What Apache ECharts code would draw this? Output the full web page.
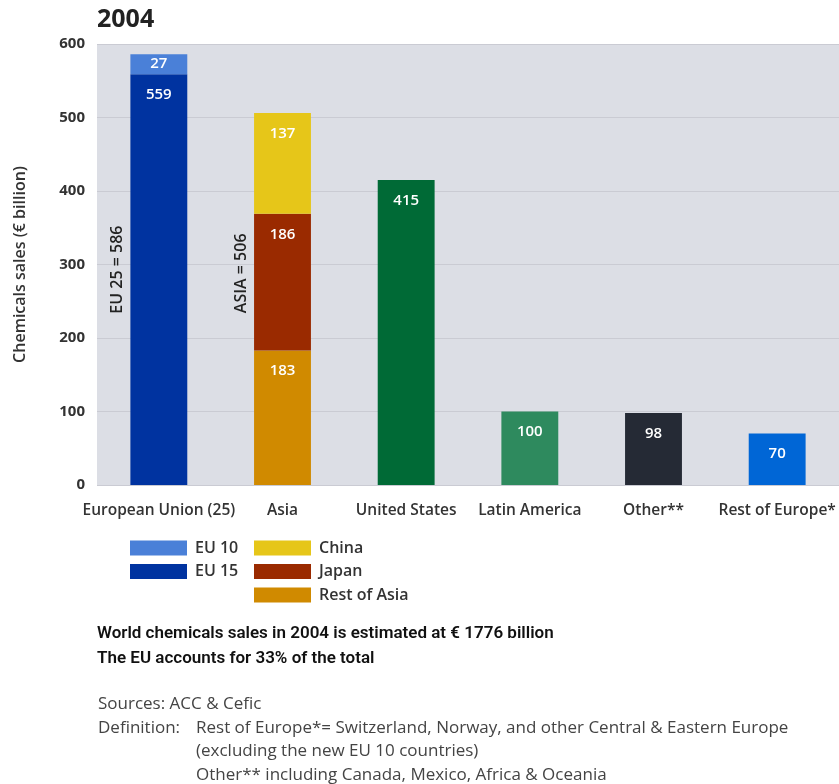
<!DOCTYPE html>
<html><head><meta charset="utf-8">
<script src="https://cdn.jsdelivr.net/npm/echarts@6/dist/echarts.min.js"></script>
<style>html,body{margin:0;padding:0;background:#fff}#c{width:839px;height:784px}</style>
</head><body><div id="c"></div>
<script>
const categories = ['European Union (25)', 'Asia', 'United States', 'Latin America', 'Other**', 'Rest of Europe*'];
const eu15 = [559, null, null, null, null, null];
const eu10 = [27, null, null, null, null, null];
const restOfAsia = [null, 183, null, null, null, null];
const japan = [null, 186, null, null, null, null];
const china = [null, 137, null, null, null, null];
const regionTotals = [null, null, 415, 100, 98, 70];
const yMin = 0, yMax = 600, yInterval = 100;
const annotations = [
  { cat: 0, value: 293, text: 'EU 25 = 586' },
  { cat: 1, value: 288, text: 'ASIA = 506' }
];
const notesBold = ['World chemicals sales in 2004 is estimated at € 1776 billion', 'The EU accounts for 33% of the total'];
const notesRegular = ['Sources: ACC & Cefic', 'Definition:'];
const notesIndented = ['Rest of Europe*= Switzerland, Norway, and other Central & Eastern Europe', '(excluding the new EU 10 countries)', 'Other** including Canada, Mexico, Africa & Oceania'];

const FONT = '"Open Sans", sans-serif';
const regionColors = [null, null, '#006a36', '#2e8a5e', '#252a35', '#0066d6'];

const labelTop = { show: true, position: 'insideTop', distance: 13, color: '#fff', fontSize: 15, fontWeight: 600, fontFamily: FONT };
function mk(name, data, color, label) {
  return { name, type: 'bar', stack: 'total', barWidth: '46%', data, itemStyle: { color }, label: label || labelTop, emphasis: { disabled: true } };
}
const chart = echarts.init(document.getElementById('c'));
const legendText = { color: '#333', fontSize: 16, fontWeight: 600, fontFamily: FONT, lineHeight: 15, padding: [0, 0, 0, 3] };
const legendBase = { orient: 'vertical', top: 540, padding: 0, itemWidth: 57, itemHeight: 15, itemGap: 7.5, icon: 'rect', textStyle: legendText, selectedMode: false };
const option = {
  animation: false,
  title: { text: '2004', left: 92, top: 2, textStyle: { fontSize: 25, fontWeight: 'bold', color: '#222', fontFamily: FONT } },
  grid: { left: 97, top: 44, right: -2, bottom: 299, show: true, backgroundColor: '#dcdee5', borderWidth: 0 },
  legend: [
    Object.assign({ data: ['EU 10', 'EU 15'], left: 130 }, legendBase),
    Object.assign({ data: ['China', 'Japan', 'Rest of Asia'], left: 254 }, legendBase)
  ],
  xAxis: {
    type: 'category', data: categories,
    axisLine: { show: false }, axisTick: { show: false },
    axisLabel: { color: '#333', fontSize: 15.5, fontWeight: 600, fontFamily: FONT, margin: 18, interval: 0 }
  },
  yAxis: {
    type: 'value', min: yMin, max: yMax, interval: yInterval,
    name: 'Chemicals sales (€ billion)', nameLocation: 'middle', nameGap: 69, nameRotate: 90,
    nameTextStyle: { color: '#333', fontSize: 16, fontWeight: 600, fontFamily: FONT },
    axisLine: { show: false }, axisTick: { show: false },
    axisLabel: { color: '#333', fontSize: 15, fontWeight: 'bold', fontFamily: FONT, margin: 12 },
    splitLine: { lineStyle: { color: '#cacbd3', width: 1 } }
  },
  series: [
    mk('EU 15', eu15, '#0033a0'),
    mk('EU 10', eu10, '#4a80d8', { show: true, position: 'inside', color: '#fff', fontSize: 15, fontWeight: 600, fontFamily: FONT }),
    mk('Rest of Asia', restOfAsia, '#d08a00'),
    mk('Japan', japan, '#9a2a00'),
    mk('China', china, '#e6c619'),
    { name: 'Regions', type: 'bar', stack: 'total', barWidth: '46%',
      data: regionTotals.map((v, i) => v == null ? null : { value: v, itemStyle: { color: regionColors[i] } }),
      label: labelTop, emphasis: { disabled: true } }
  ]
};
chart.setOption(option);

function txt(x, y, t, s) {
  return { type: 'text', x, y, style: Object.assign({ text: t, textAlign: 'left', textVerticalAlign: 'middle', align: 'left', verticalAlign: 'middle' }, s) };
}
const graphics = [];
annotations.forEach(a => {
  const p = chart.convertToPixel({ gridIndex: 0 }, [a.cat, a.value]);
  graphics.push({ type: 'text', x: p[0] - 41, y: p[1], rotation: Math.PI / 2,
    style: { text: a.text, fill: '#222', fontSize: 16, fontWeight: 600, fontFamily: FONT, textAlign: 'center', textVerticalAlign: 'middle', align: 'center', verticalAlign: 'middle' } });
});
notesBold.forEach((t, i) => graphics.push(txt(97, 634 + i * 25, t, { fill: '#111', fontSize: 17, fontWeight: 600, fontFamily: 'Roboto, sans-serif' })));
notesRegular.forEach((t, i) => graphics.push(txt(98, 704 + i * 24, t, { fill: '#444', fontSize: 17, fontFamily: FONT })));
notesIndented.forEach((t, i) => graphics.push(txt(196, 728 + i * 23.5, t, { fill: '#444', fontSize: 17, fontFamily: FONT })));
chart.setOption({ graphic: graphics });
</script>
</body></html>
